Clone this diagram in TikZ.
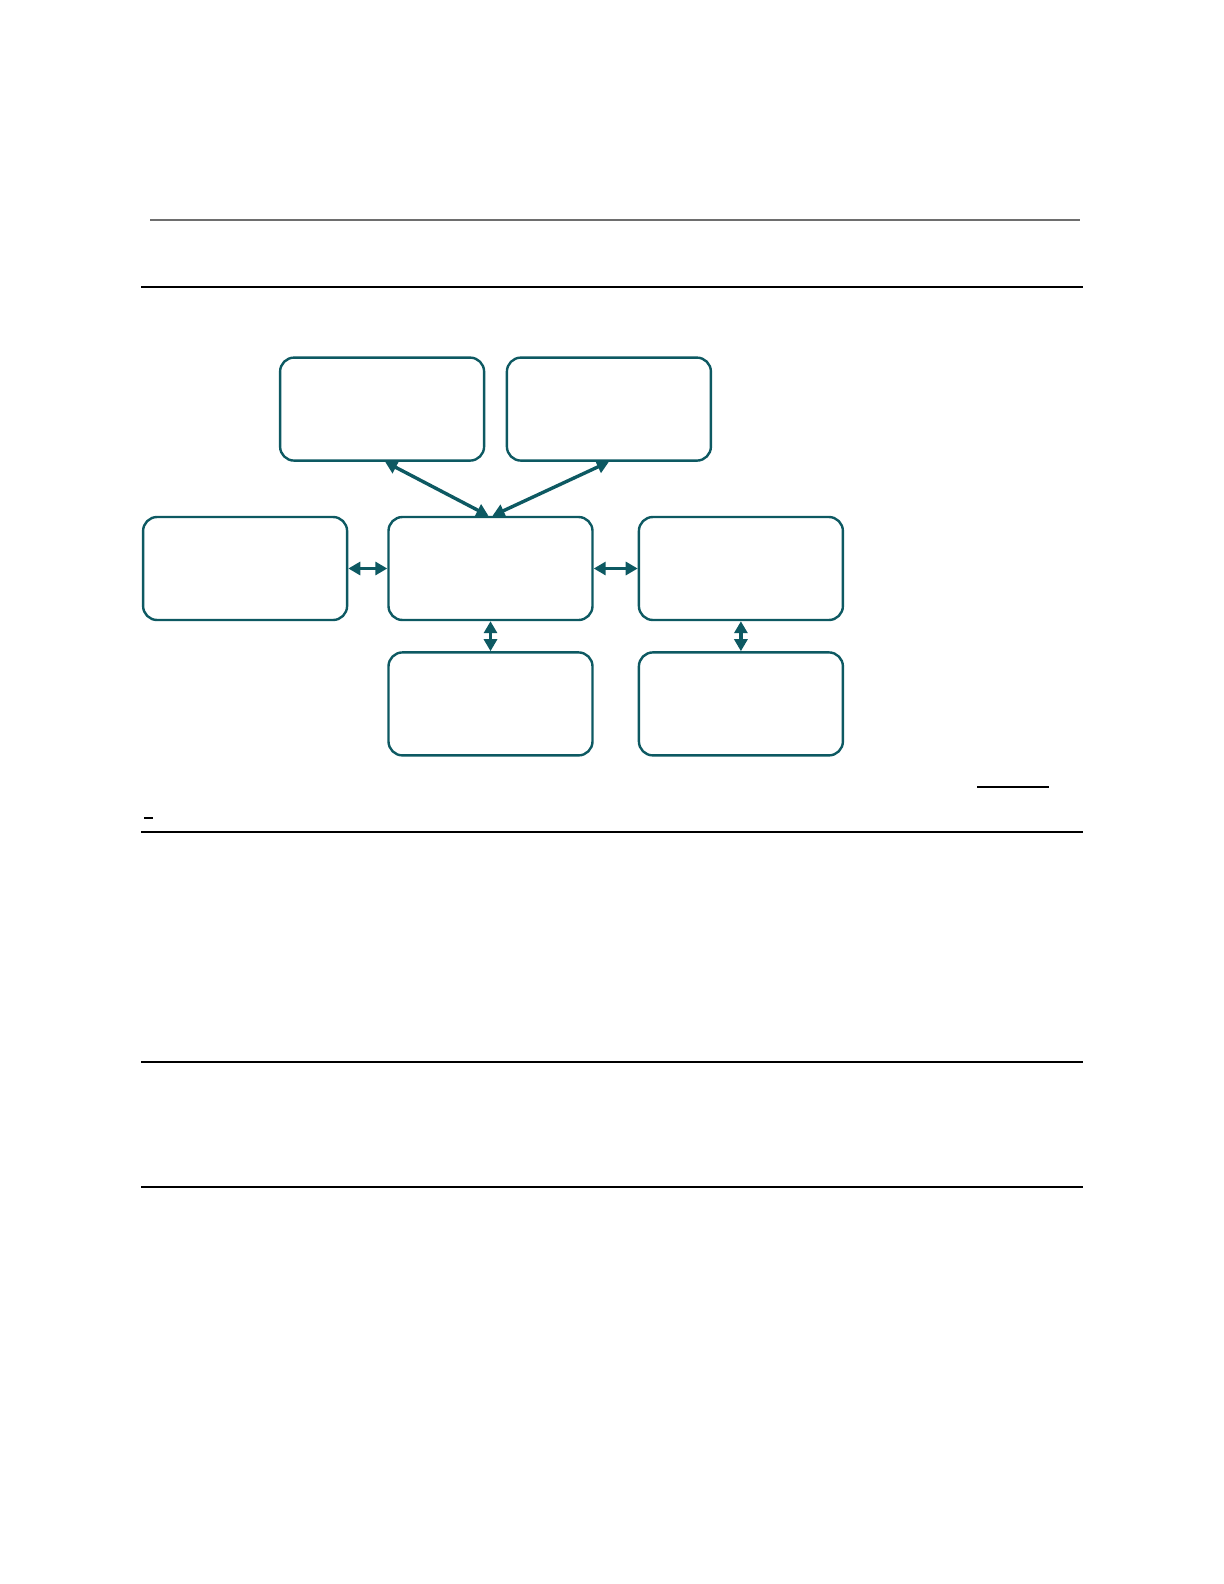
\documentclass[tikz,border=0pt]{standalone}
\usepackage{xcolor}
\usepackage{tikz}
\usetikzlibrary{arrows.meta}
\usetikzlibrary{positioning}

\definecolor{tealbox}{HTML}{0D5962}
\definecolor{rulegray}{HTML}{6E6E6E}

\begin{document}
\begin{tikzpicture}[x=.5pt, y=-.5pt,
  box/.style={draw=tealbox, line width=1.2pt, rounded corners=7pt, minimum width=102pt, minimum height=51.5pt, inner sep=0pt},
  link/.style={tealbox, line width=1.7pt, {Triangle[length=6pt,width=6.5pt]}-{Triangle[length=6pt,width=6.5pt]}}]
\useasboundingbox (0,0) rectangle (1224,1584);
% page rules
\draw [rulegray, line width=.9pt] (150,220) -- (1080,220);
\draw [line width=.8pt] (141,287) -- (1083,287);
\draw [line width=.7pt] (977,787) -- (1049,787);
\draw [line width=.7pt] (144,818) -- (153,818);
\draw [line width=.8pt] (141,832) -- (1083,832);
\draw [line width=.8pt] (141,1062) -- (1083,1062);
\draw [line width=.8pt] (141,1187) -- (1083,1187);
% boxes
\node (hub) [box] at (490.5,568.5) {};
\node (west) [box, left=19.5pt of hub] {};
\node (east) [box, right=22pt of hub] {};
\node (south) [box, below=15pt of hub] {};
\node (southeast) [box, below=15pt of east] {};
\node (topleft) [box, above left=27pt and -49pt of hub] {};
\node (topright) [box, above right=27pt and -44pt of hub] {};
% arrows
\draw [link] ([xshift=1.5pt]topleft.south) -- ([xshift=-1pt]hub.north);
\draw [link] (topright.south) -- ([xshift=1pt]hub.north);
\draw [link] (west) -- (hub);
\draw [link] (hub) -- (east);
\draw [link] (hub) -- (south);
\draw [link] (east) -- (southeast);
\end{tikzpicture}
\end{document}
